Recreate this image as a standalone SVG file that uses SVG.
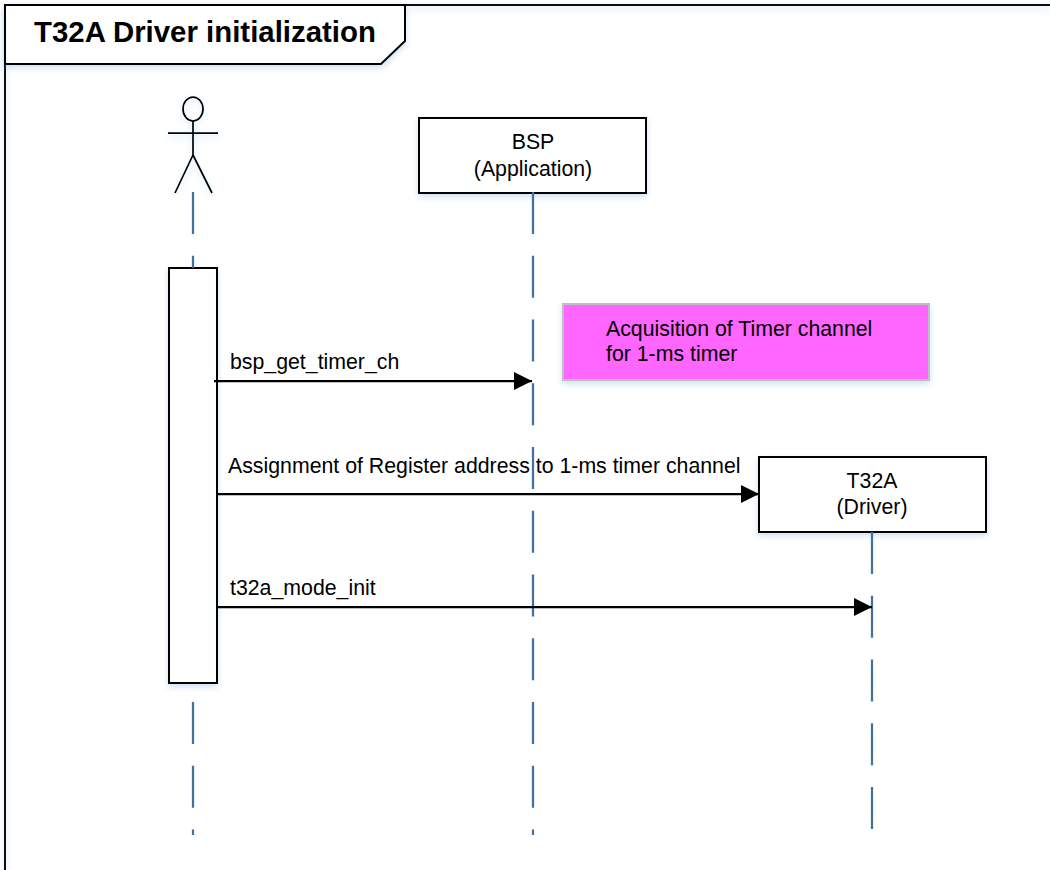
<svg xmlns="http://www.w3.org/2000/svg" width="1050" height="870" viewBox="0 0 1050 870">
<style>
text{font-family:"Liberation Sans",Arial,sans-serif;font-size:21.3px;fill:#000}
.box{fill:#fff;stroke:#000;stroke-width:2}
.life{stroke:#41719c;stroke-width:2.25;stroke-dasharray:42 21.75;fill:none}
.msg{stroke:#000;stroke-width:2.25;fill:none;marker-end:url(#arrow)}
.fig{fill:none;stroke:#000;stroke-width:1.75}
</style>
<defs>
<marker id="arrow" markerUnits="userSpaceOnUse" markerWidth="19" markerHeight="18" refX="18" refY="9" orient="auto"><path d="M0 0L18 9L0 18Z" fill="#000"/></marker>
<filter id="sh" x="-10%" y="-10%" width="120%" height="130%"><feDropShadow dx="0" dy="3" stdDeviation="3" flood-color="#5b9bd5" flood-opacity=".3"/></filter>
</defs>
<rect width="1050" height="870" fill="#fff"/>
<g id="frame">
<path d="M5 870V5H1050" fill="none" stroke="#111" stroke-width="2" filter="url(#sh)"/>
<path d="M5 5H405V41L381 64H5Z" class="box" filter="url(#sh)"/>
<text x="34" y="41.500" style="font-size:29.4px;font-weight:bold">T32A Driver initialization</text>
</g>
<g id="actor" filter="url(#sh)">
<ellipse class="fig" cx="193" cy="109" rx="10" ry="12"/>
<path class="fig" d="M193 121V155M168 133H218M193 155L175 193M193 155L212 193"/>
</g>
<g id="activation"><rect class="box" x="169" y="268" width="48" height="415" filter="url(#sh)"/></g>
<g id="bsp">
<rect class="box" x="419" y="118" width="227" height="75" filter="url(#sh)"/>
<text x="533" y="149" text-anchor="middle">BSP</text>
<text x="533" y="175.500" text-anchor="middle">(Application)</text>
</g>
<g id="note">
<rect x="563" y="304" width="366" height="76" fill="#ff66ff" stroke="#bfbfbf" stroke-width="2" filter="url(#sh)"/>
<text x="606" y="335.500">Acquisition of Timer channel</text>
<text x="606" y="360.500">for 1-ms timer</text>
</g>
<g id="t32a">
<rect class="box" x="759" y="457" width="227" height="75" filter="url(#sh)"/>
<text x="872" y="488" text-anchor="middle">T32A</text>
<text x="872" y="514" text-anchor="middle">(Driver)</text>
</g>
<g id="connectors">
<path class="life" d="M193 192V268"/>
<path class="life" d="M193 702V835"/>
<path class="life" d="M533 192V835"/>
<path class="life" d="M872 532V829"/>
<path class="msg" d="M214 381H532"/>
<path class="msg" d="M218 494H759"/>
<path class="msg" d="M218 607H872"/>
</g>
<g id="labels">
<text x="230" y="369">bsp_get_timer_ch</text>
<text x="228" y="472.500">Assignment of Register address to 1-ms timer channel</text>
<text x="230" y="595">t32a_mode_init</text>
</g>
</svg>
